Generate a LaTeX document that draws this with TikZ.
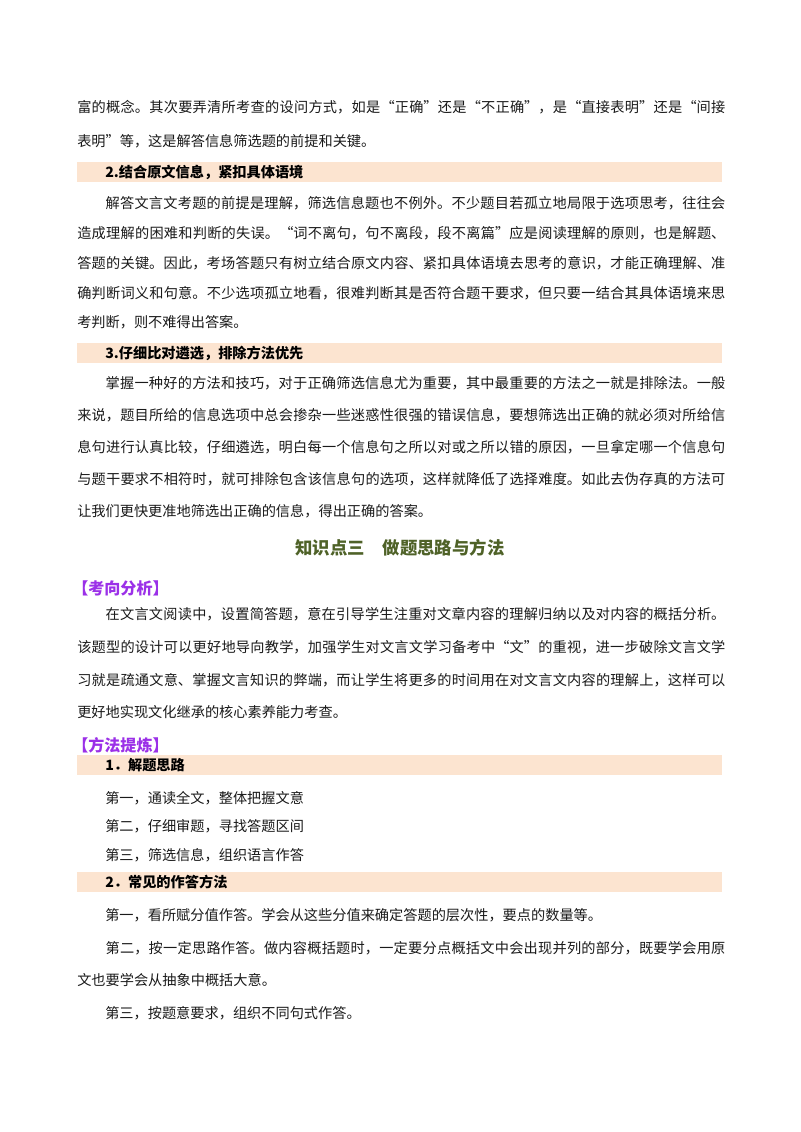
\documentclass[tikz,border=0pt]{standalone}
\usepackage{fontspec}
\setmainfont{Noto Sans CJK SC}
\XeTeXlinebreaklocale "zh"
\XeTeXlinebreakskip=0pt plus 2pt
\definecolor{barc}{HTML}{FCE4D0}
\definecolor{titlec}{HTML}{4F6228}
\definecolor{purp}{HTML}{9B30E8}
\definecolor{txt}{HTML}{1A1A1A}
\tikzset{
  ln/.style={anchor=west,inner sep=0pt,text=txt,font=\fontsize{10.6pt}{12pt}\selectfont},
  hd/.style={anchor=west,inner sep=0pt,text=black,font=\fontsize{10.6pt}{12pt}\selectfont\bfseries},
  barbox/.style={fill=barc,draw=none}
}
\newcommand\full[1]{\parbox{645\pgflinewidth}{#1}}
\newcommand\fl[1]{\parbox{484pt}{\parfillskip=0pt\noindent #1}}
\newcommand\ind{\hspace*{2em}}
\begin{document}
\begin{tikzpicture}[x=0.02625cm,y=-0.02625cm]
\useasboundingbox (0,0) rectangle (800,1132);
\fill[white] (0,0) rectangle (800,1132);
% para 1
\node[ln] (a1) at (77,107) {\fl{富的概念。其次要弄清所考查的设问方式，如是“正确”还是“不正确”，是“直接表明”还是“间接}};
\node[ln] (a2) at (77,141) {表明”等，这是解答信息筛选题的前提和关键。};
% bar 2
\fill[barbox] (77,162) rectangle (722,182);
\node[hd] (h2) at (105,172) {2.结合原文信息，紧扣具体语境};
\node[ln] (b1) at (77,203) {\fl{\ind 解答文言文考题的前提是理解，筛选信息题也不例外。不少题目若孤立地局限于选项思考，往往会}};
\node[ln] (b2) at (77,233) {\fl{造成理解的困难和判断的失误。“词不离句，句不离段，段不离篇”应是阅读理解的原则，也是解题、}};
\node[ln] (b3) at (77,263) {\fl{答题的关键。因此，考场答题只有树立结合原文内容、紧扣具体语境去思考的意识，才能正确理解、准}};
\node[ln] (b4) at (77,293) {\fl{确判断词义和句意。不少选项孤立地看，很难判断其是否符合题干要求，但只要一结合其具体语境来思}};
\node[ln] (b5) at (77,322) {考判断，则不难得出答案。};
% bar 3
\fill[barbox] (77,343) rectangle (722,363);
\node[hd] (h3) at (105,353) {3.仔细比对遴选，排除方法优先};
\node[ln] (c1) at (77,383) {\fl{\ind 掌握一种好的方法和技巧，对于正确筛选信息尤为重要，其中最重要的方法之一就是排除法。一般}};
\node[ln] (c2) at (77,415) {\fl{来说，题目所给的信息选项中总会掺杂一些迷惑性很强的错误信息，要想筛选出正确的就必须对所给信}};
\node[ln] (c3) at (77,447) {\fl{息句进行认真比较，仔细遴选，明白每一个信息句之所以对或之所以错的原因，一旦拿定哪一个信息句}};
\node[ln] (c4) at (77,479) {\fl{与题干要求不相符时，就可排除包含该信息句的选项，这样就降低了选择难度。如此去伪存真的方法可}};
\node[ln] (c5) at (77,511) {让我们更快更准地筛选出正确的信息，得出正确的答案。};
% title
\node[anchor=center,inner sep=0pt,text=titlec,font=\fontsize{13pt}{15pt}\selectfont\bfseries] (t) at (400,548) {知识点三\hspace{1em}做题思路与方法};
\node[anchor=west,inner sep=0pt,text=purp,font=\fontsize{12pt}{14pt}\selectfont\bfseries] (k1) at (72,588) {【考向分析】};
\node[ln] (d1) at (77,614) {\fl{\ind 在文言文阅读中，设置简答题，意在引导学生注重对文章内容的理解归纳以及对内容的概括分析。}};
\node[ln] (d2) at (77,647) {\fl{该题型的设计可以更好地导向教学，加强学生对文言文学习备考中“文”的重视，进一步破除文言文学}};
\node[ln] (d3) at (77,680) {\fl{习就是疏通文意、掌握文言知识的弊端，而让学生将更多的时间用在对文言文内容的理解上，这样可以}};
\node[ln] (d4) at (77,712) {更好地实现文化继承的核心素养能力考查。};
\node[anchor=west,inner sep=0pt,text=purp,font=\fontsize{12pt}{14pt}\selectfont\bfseries] (k2) at (72,745) {【方法提炼】};
\fill[barbox] (77,755) rectangle (722,775);
\node[hd] (h4) at (105,765) {1．解题思路};
\node[ln] (e1) at (105,798) {第一，通读全文，整体把握文意};
\node[ln] (e2) at (105,826) {第二，仔细审题，寻找答题区间};
\node[ln] (e3) at (105,855) {第三，筛选信息，组织语言作答};
\fill[barbox] (77,872) rectangle (722,892);
\node[hd] (h5) at (105,882) {2．常见的作答方法};
\node[ln] (f1) at (105,915) {第一，看所赋分值作答。学会从这些分值来确定答题的层次性，要点的数量等。};
\node[ln] (f2) at (77,948) {\fl{\ind 第二，按一定思路作答。做内容概括题时，一定要分点概括文中会出现并列的部分，既要学会用原}};
\node[ln] (f3) at (77,980) {文也要学会从抽象中概括大意。};
\node[ln] (f4) at (105,1013) {第三，按题意要求，组织不同句式作答。};
\end{tikzpicture}
\end{document}
